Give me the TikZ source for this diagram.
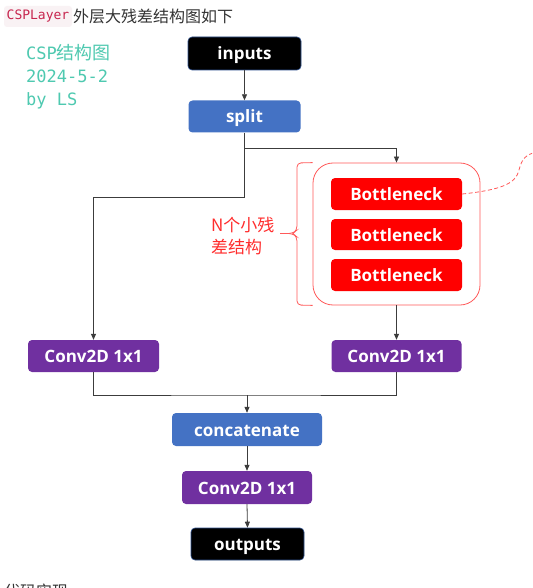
\documentclass[tikz,border=0pt]{standalone}
\usepackage{fontspec}
\setmainfont{Open Sans}
\newfontfamily\cjk{Noto Sans CJK SC}
\newfontfamily\mono{DejaVu Sans Mono}
\usetikzlibrary{arrows.meta,calc}
\definecolor{bblue}{RGB}{68,114,196}
\definecolor{bpurple}{RGB}{112,48,160}
\definecolor{bred}{RGB}{255,0,0}
\definecolor{lred}{RGB}{255,90,90}
\definecolor{labred}{RGB}{255,45,45}
\definecolor{teal}{RGB}{78,201,176}
\definecolor{codefg}{RGB}{199,37,78}
\definecolor{codebg}{RGB}{249,242,244}
\definecolor{txtgray}{RGB}{51,51,51}
\definecolor{linegray}{RGB}{60,60,60}
\definecolor{navy}{RGB}{47,82,143}
\begin{document}
\begin{tikzpicture}[x=1pt,y=-1pt,
  box/.style={rectangle,rounded corners=4pt,inner sep=0pt,text=white,
    text height=13pt,text depth=0pt,
    font=\fontsize{17}{20}\selectfont\bfseries,anchor=center},
  blackbox/.style={box,fill=black,draw=navy,line width=0.6pt},
  bluebox/.style={box,fill=bblue},
  purplebox/.style={box,fill=bpurple},
  redbox/.style={box,fill=bred},
  conn/.style={draw=linegray,line width=0.8pt},
  arr/.style={conn,-{Triangle[length=6pt,width=5pt]}},
]
\useasboundingbox (0,0) rectangle (532,588);
\clip (0,0) rectangle (532,588);
\fill[white] (0,0) rectangle (532,588);

% header
\node[fill=codebg,rounded corners=3pt,inner sep=0pt,minimum width=68pt,minimum height=21pt,
  text=codefg,font=\mono\fontsize{13}{15}\selectfont] (code) at (38,16.5) {CSPLayer};
\node[anchor=west,inner sep=0pt,text=txtgray,font=\cjk\fontsize{16}{18}\selectfont] (title)
  at (73,16) {外层大残差结构图如下};

% green note
\node[anchor=base west,inner sep=0pt,text=teal,font=\mono\fontsize{17}{20}\selectfont] (n1)
  at (26,60) {CSP{\cjk\fontsize{18}{20}\selectfont 结构图}};
\node[anchor=base west,inner sep=0pt,text=teal,font=\mono\fontsize{17}{20}\selectfont] (n2)
  at (26,83) {2024-5-2};
\node[anchor=base west,inner sep=0pt,text=teal,font=\mono\fontsize{17}{20}\selectfont] (n3)
  at (26,106) {by LS};

% main nodes
\node[blackbox,minimum width=113pt,minimum height=33pt] (inputs) at (244.5,53.5) {inputs};
\node[bluebox,minimum width=112pt,minimum height=32pt] (split) at (244.5,116.5) {split};

\node[draw=lred,line width=0.8pt,rounded corners=20pt,minimum width=167pt,minimum height=142pt,
  inner sep=0pt] (cont) at (396.5,234) {};
\node[redbox,minimum width=131pt,minimum height=32pt] (b1) at (396.5,194) {Bottleneck};
\node[redbox,minimum width=131pt,minimum height=31pt] (b2) at (396.5,234.5) {Bottleneck};
\node[redbox,minimum width=131pt,minimum height=32pt] (b3) at (396.5,275) {Bottleneck};

\node[purplebox,minimum width=131pt,minimum height=32pt] (convL) at (93.5,356) {Conv2D 1x1};
\node[purplebox,minimum width=130pt,minimum height=32pt] (convR) at (396.5,356) {Conv2D 1x1};
\node[bluebox,minimum width=150pt,minimum height=33pt] (concat) at (247,429.5) {concatenate};
\node[purplebox,minimum width=130pt,minimum height=33pt] (conv3) at (247,487.5) {Conv2D 1x1};
\node[blackbox,minimum width=113pt,minimum height=32pt] (outputs) at (247.5,544) {outputs};

% brace and label
\draw[lred,line width=0.8pt,rounded corners=4pt]
  (cont.north west) -- (297,163) -- (297,230) -- (293,233.5) -- (280,233.5);
\draw[lred,line width=0.8pt,rounded corners=4pt]
  (280,233.5) -- (293,233.5) -- (297,237) -- (297,305) -- (cont.south west);
\node[anchor=base west,inner sep=0pt,text=labred,font=\cjk\fontsize{17}{20}\selectfont] (lab1)
  at (211,231) {N个小残};
\node[anchor=base west,inner sep=0pt,text=labred,font=\cjk\fontsize{17}{20}\selectfont] (lab2)
  at (211,253) {差结构};

% dashed curve
\coordinate (dend) at (536,152);
\draw[lred,line width=0.8pt,dash pattern=on 4pt off 2.5pt]
  (b1.east) .. controls (500,190) and (516,184) .. (519,170)
  .. controls (522,158) and (526,155) .. (dend);

% connectors
\draw[arr] (inputs.south) -- (split.north);
\coordinate (jr) at (244.5,148);
\draw[arr] (split.south) -- (jr) -| (cont.north);
\coordinate (jl) at (244.5,197);
\draw[arr] (jr) -- (jl) -| (convL.north);
\draw[arr] (cont.south) -- (convR.north);
\coordinate (jc) at (247,395);
\draw[conn] (convL.south) |- (jc) -| (convR.south);
\draw[arr] (jc) -- (concat.north);
\draw[arr] (concat.south) -- (conv3.north);
\draw[arr] (conv3.south) -- (outputs.north);

% bottom cut text
\node[anchor=base west,inner sep=0pt,text=txtgray,font=\cjk\fontsize{16}{18}\selectfont] (bottom)
  at (4,597) {代码实现};
\end{tikzpicture}
\end{document}
